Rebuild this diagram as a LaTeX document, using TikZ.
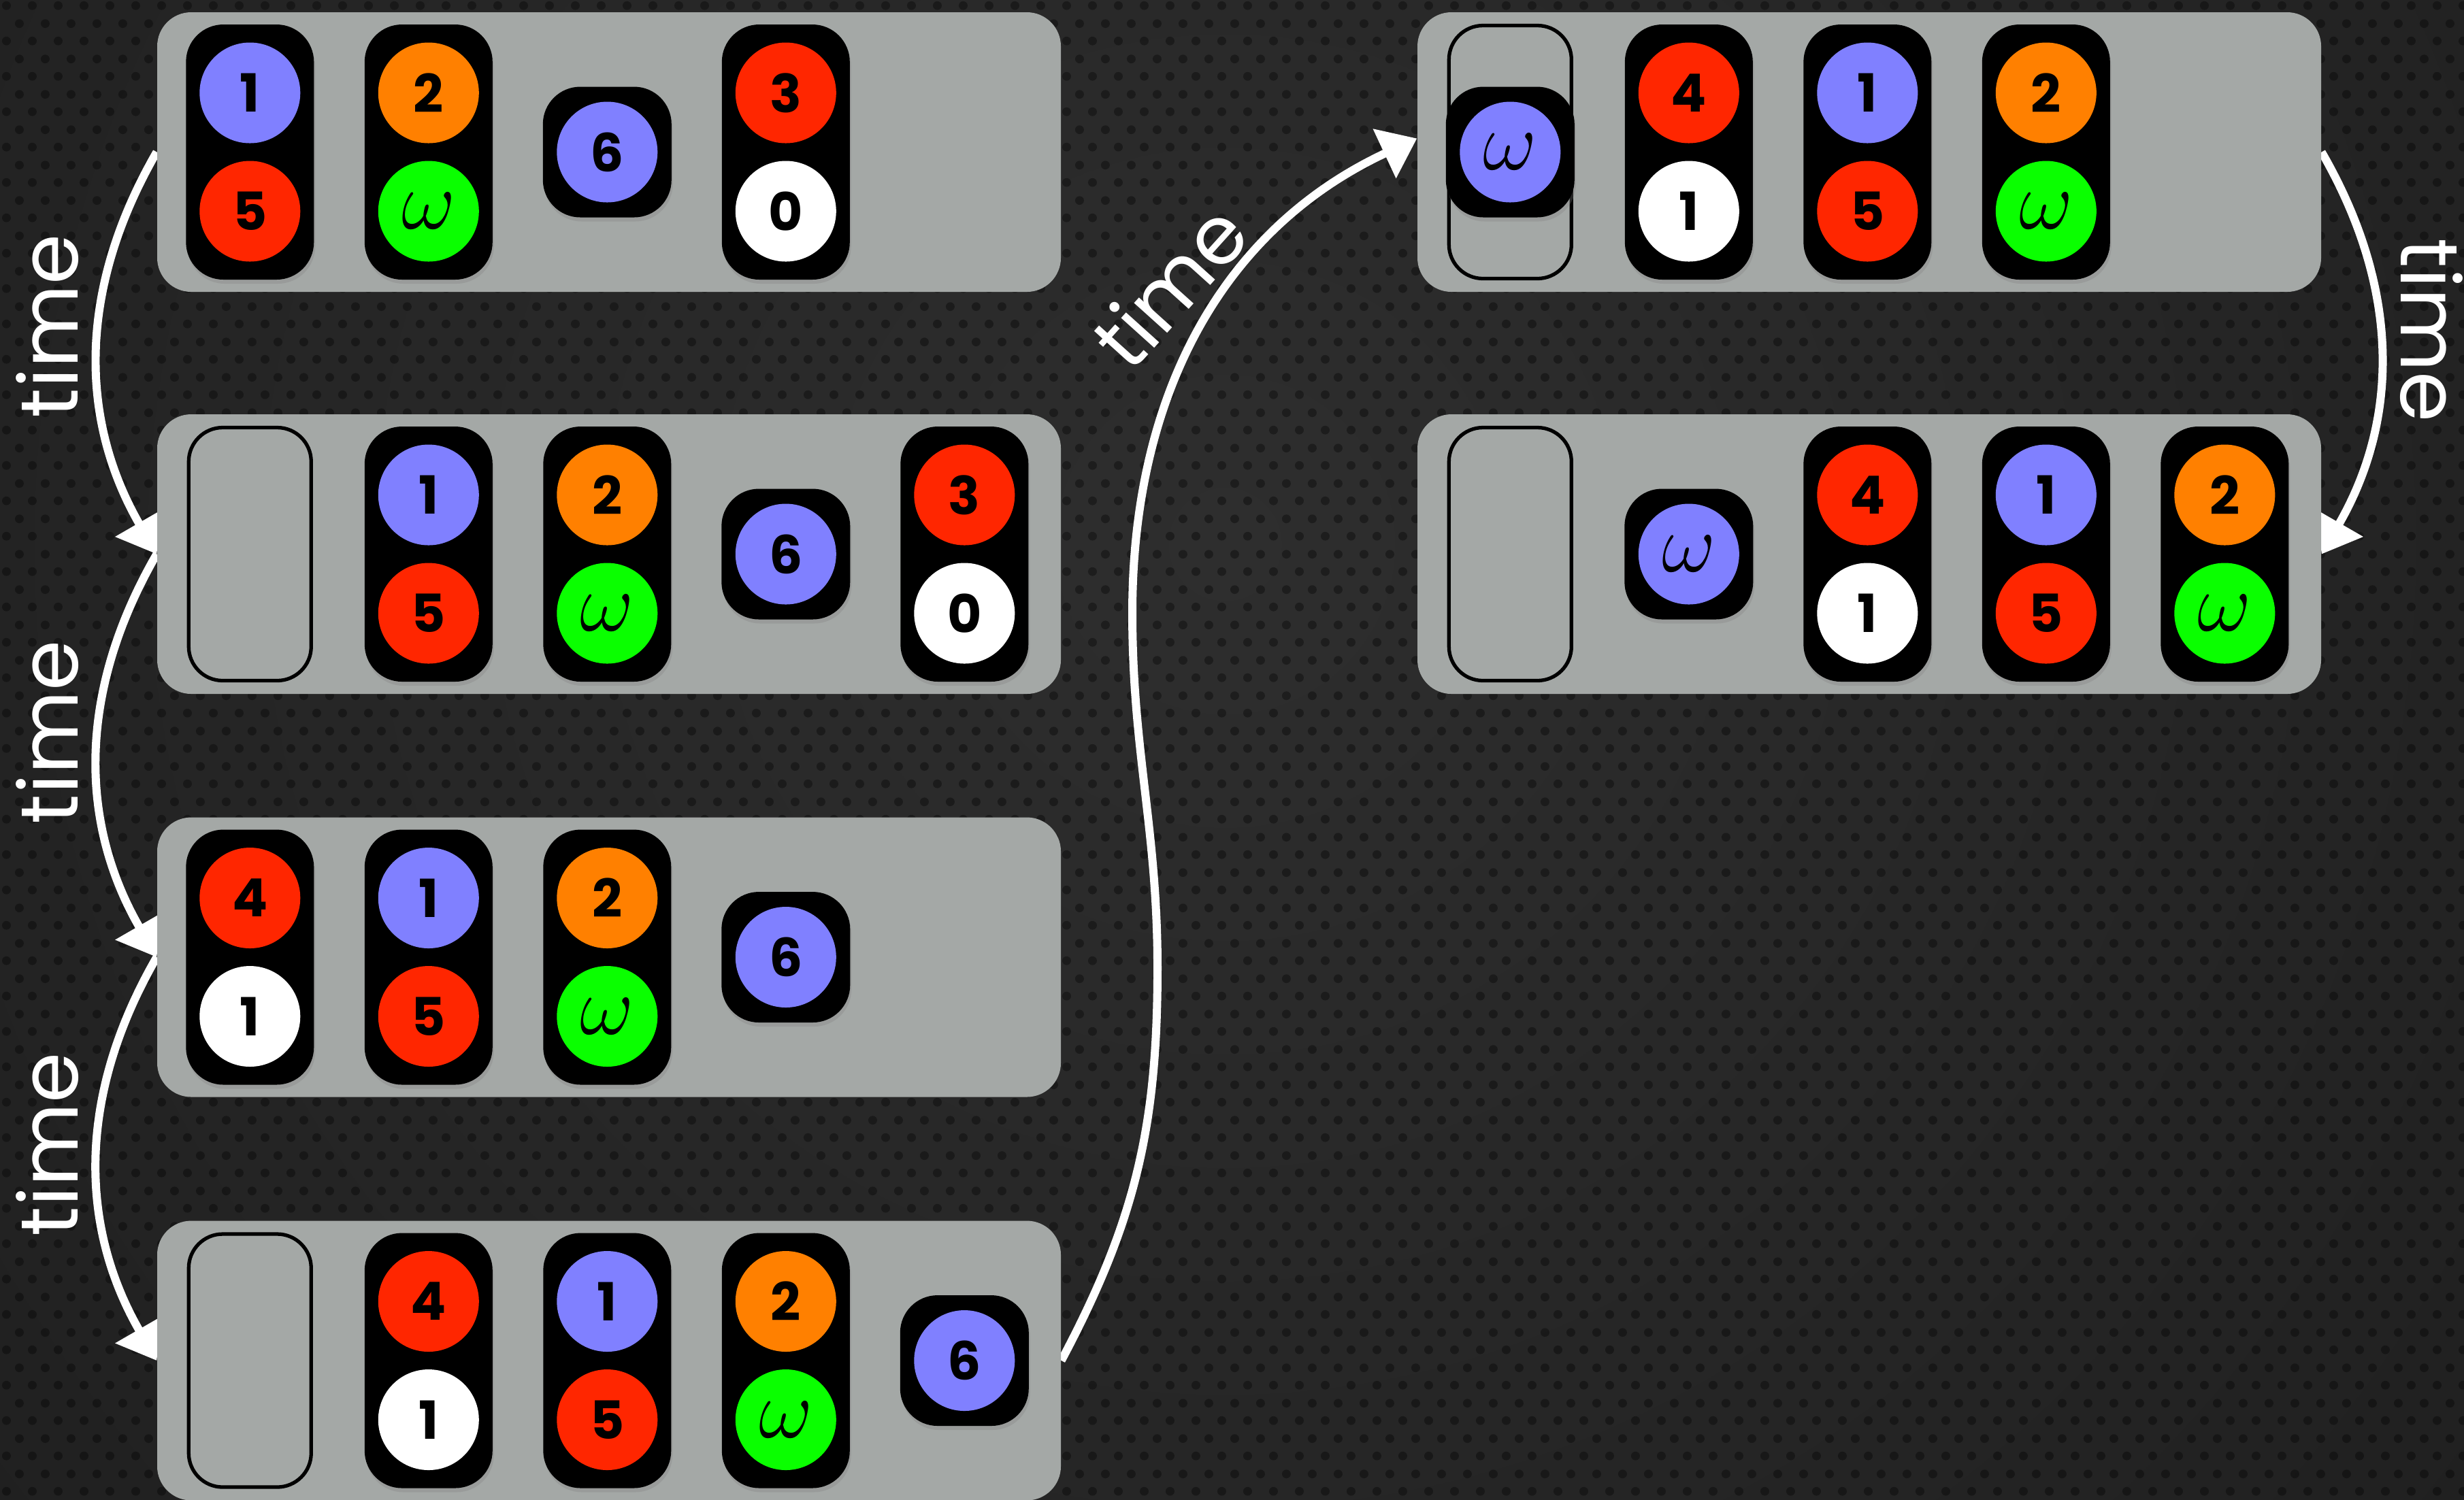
\documentclass[tikz,border=0pt]{standalone}
\usepackage{fontspec}
\newfontfamily\digitfont{Poppins}
\newfontfamily\timefont{Poppins}
\usetikzlibrary{arrows.meta,patterns,shadows}

\definecolor{panelgray}{RGB}{164,168,166}
\definecolor{ballblue}{RGB}{128,128,255}
\definecolor{ballorange}{RGB}{255,128,0}
\definecolor{ballred}{RGB}{255,38,0}
\definecolor{ballgreen}{RGB}{10,255,0}
\definecolor{bglight}{RGB}{46,46,46}
\definecolor{bgdark}{RGB}{22,22,22}

\pgfdeclarelayer{backdrop}
\pgfdeclarelayer{arrowlayer}
\pgfsetlayers{backdrop,arrowlayer,main}

\pgfdeclarepatternformonly{perforation}{\pgfqpoint{0pt}{0pt}}{\pgfqpoint{10.8pt}{14.8pt}}{\pgfqpoint{10.8pt}{14.8pt}}{%
  \pgfpathcircle{\pgfqpoint{2.7pt}{3.7pt}}{1.85pt}%
  \pgfpathcircle{\pgfqpoint{8.1pt}{11.1pt}}{1.85pt}%
  \pgfusepath{fill}}

\tikzset{
  panel/.style={rectangle, fill=panelgray, rounded corners=0.5cm, minimum width=13.28cm, minimum height=4.11cm, inner sep=0pt},
  pill/.style={rectangle, fill=black, rounded corners=0.55cm, minimum width=1.88cm, minimum height=3.75cm, inner sep=0pt,
    drop shadow={shadow xshift=0.02cm, shadow yshift=-0.06cm, opacity=0.3}},
  single/.style={pill, minimum width=1.89cm, minimum height=1.92cm},
  slot/.style={rectangle, draw=black, line width=1.5pt, fill=panelgray, rounded corners=0.5cm, minimum width=1.80cm, minimum height=3.72cm, inner sep=0pt},
  ball/.style={circle, minimum size=1.48cm, inner sep=0pt, text=black, font=\digitfont\bfseries\fontsize{22}{24}\selectfont},
  timearrow/.style={draw=white, line width=3.4pt, -{Triangle[length=15pt,width=22pt]}},
  timelabel/.style={text=white, inner sep=0pt, font=\timefont\fontsize{34}{40}\selectfont}
}

\newcommand\omg{\scalebox{1.4}{\fontsize{24.88}{26}\selectfont$\omega$}}
\newcommand\pairbox[6]{%
  \node[pill] (#1) at (#2) {};
  \node[ball, fill=#3] (#1t) at ([yshift=0.87cm]#1.center) {#4};
  \node[ball, fill=#5] (#1b) at ([yshift=-0.87cm]#1.center) {#6};}
\newcommand\onebox[4]{%
  \node[single] (#1) at (#2) {};
  \node[ball, fill=#3] (#1c) at (#1.center) {#4};}
\newcommand\slotbox[2]{\node[slot] (#1) at (#2) {};}

\begin{document}
\begin{tikzpicture}
  \useasboundingbox (0,0) rectangle (36.21,-22.04);
  \begin{pgfonlayer}{backdrop}
    \begin{scope}
      \clip (0,0) rectangle (36.21,-22.04);
      \shade[inner color=bglight, outer color=bgdark] (18,-8) circle (40);
      \fill[pattern=perforation, pattern color=black, fill opacity=0.35] (0,0) rectangle (36.21,-22.04);
    \end{scope}
  \end{pgfonlayer}

  \node[panel] (st1) at (8.95,-2.235) {};
  \node[panel] (st2) at (8.95,-8.145) {};
  \node[panel] (st3) at (8.95,-14.07) {};
  \node[panel] (st4) at (8.95,-20.0) {};
  \node[panel] (st5) at (27.47,-2.235) {};
  \node[panel] (st6) at (27.47,-8.145) {};

  \foreach \p in {st1,st2,st3,st4,st5,st6}
    \foreach \k in {1,...,5}
      \coordinate (\p c\k) at ([xshift={(1.37+2.625*(\k-1))*1cm}]\p.west);

  \pairbox{a1}{st1c1}{ballblue}{1}{ballred}{5}
  \pairbox{a2}{st1c2}{ballorange}{2}{ballgreen}{\omg}
  \onebox{a3}{st1c3}{ballblue}{6}
  \pairbox{a4}{st1c4}{ballred}{3}{white}{0}

  \slotbox{b1}{st2c1}
  \pairbox{b2}{st2c2}{ballblue}{1}{ballred}{5}
  \pairbox{b3}{st2c3}{ballorange}{2}{ballgreen}{\omg}
  \onebox{b4}{st2c4}{ballblue}{6}
  \pairbox{b5}{st2c5}{ballred}{3}{white}{0}

  \pairbox{c1}{st3c1}{ballred}{4}{white}{1}
  \pairbox{c2}{st3c2}{ballblue}{1}{ballred}{5}
  \pairbox{c3}{st3c3}{ballorange}{2}{ballgreen}{\omg}
  \onebox{c4}{st3c4}{ballblue}{6}

  \slotbox{d1}{st4c1}
  \pairbox{d2}{st4c2}{ballred}{4}{white}{1}
  \pairbox{d3}{st4c3}{ballblue}{1}{ballred}{5}
  \pairbox{d4}{st4c4}{ballorange}{2}{ballgreen}{\omg}
  \onebox{d5}{st4c5}{ballblue}{6}

  \slotbox{e1}{st5c1}
  \onebox{e0}{st5c1}{ballblue}{\omg}
  \pairbox{e2}{st5c2}{ballred}{4}{white}{1}
  \pairbox{e3}{st5c3}{ballblue}{1}{ballred}{5}
  \pairbox{e4}{st5c4}{ballorange}{2}{ballgreen}{\omg}

  \slotbox{f1}{st6c1}
  \onebox{f2}{st6c2}{ballblue}{\omg}
  \pairbox{f3}{st6c3}{ballred}{4}{white}{1}
  \pairbox{f4}{st6c4}{ballblue}{1}{ballred}{5}
  \pairbox{f5}{st6c5}{ballorange}{2}{ballgreen}{\omg}

  \coordinate (bend1) at (17.01,-14.23);
  \coordinate (bend2) at (16.64,-9.01);
  \coordinate (arrive) at ([yshift=0.2cm]st5.west);

  \begin{pgfonlayer}{arrowlayer}
    \draw[timearrow] (st1.west) to[bend right=30] (st2.west);
    \draw[timearrow] (st2.west) to[bend right=30] (st3.west);
    \draw[timearrow] (st3.west) to[bend right=30] (st4.west);
    \draw[timearrow] (st5.east) to[bend left=30] (st6.east);
    \draw[timearrow] (st4.east) to[out=62,in=-90] (bend1) to[out=90,in=-90] (bend2) to[out=90,in=205] (arrive);
  \end{pgfonlayer}

  \node[timelabel, rotate=90] (lbl1) at (0.70,-4.79) {time};
  \node[timelabel, rotate=90] (lbl2) at (0.70,-10.76) {time};
  \node[timelabel, rotate=90] (lbl3) at (0.70,-16.82) {time};
  \node[timelabel, rotate=48] (lbl4) at (17.18,-4.20) {time};
  \node[timelabel, rotate=-90] (lbl5) at (35.73,-4.86) {time};
\end{tikzpicture}
\end{document}
